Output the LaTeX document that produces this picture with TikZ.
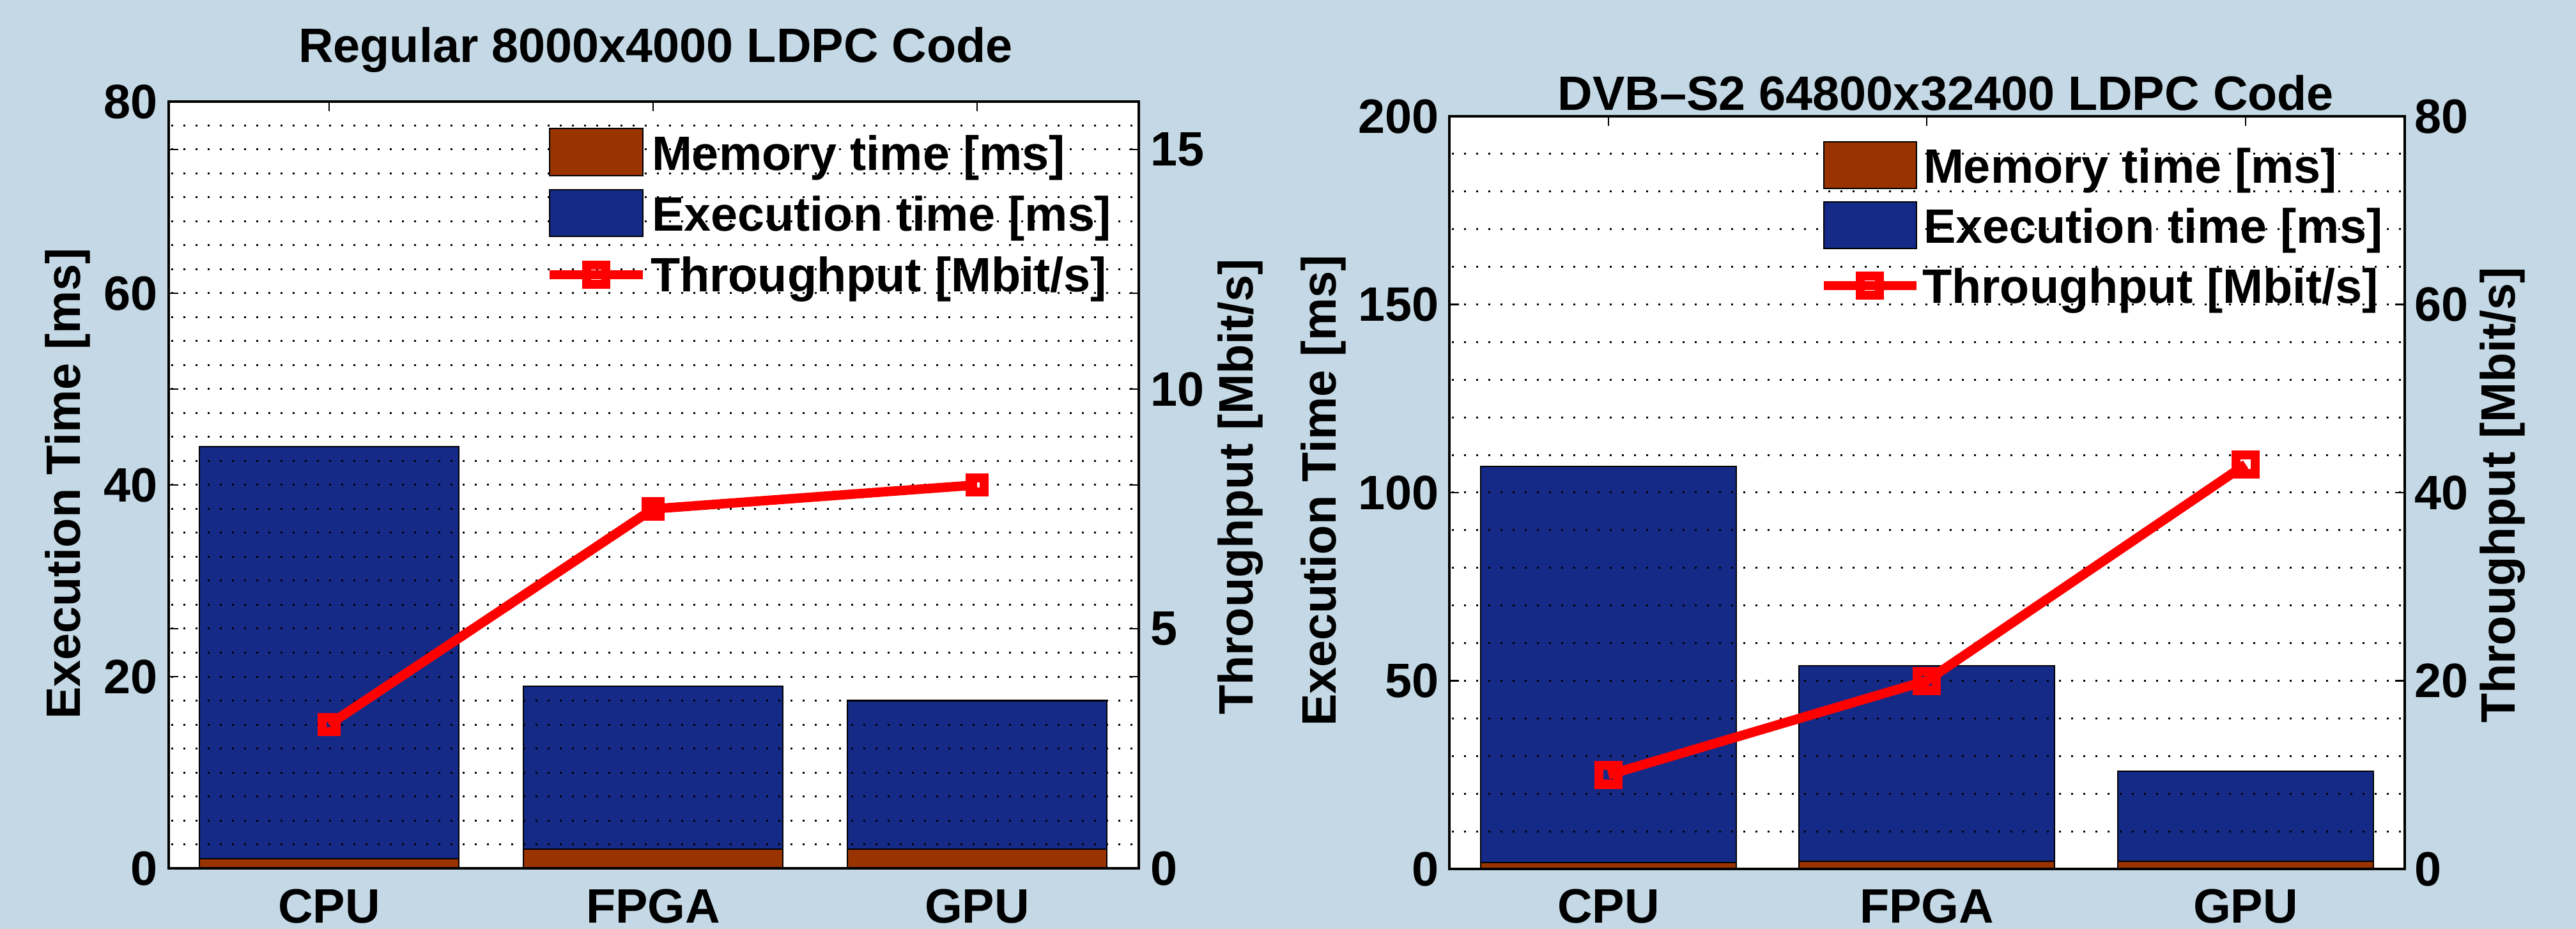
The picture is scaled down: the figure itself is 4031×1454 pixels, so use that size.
\documentclass[tikz,border=0pt]{standalone}
\usepackage{fontspec}
\setmainfont{Liberation Sans}
\definecolor{bgblue}{RGB}{196,217,229}
\definecolor{memcol}{RGB}{153,51,0}
\definecolor{execcol}{RGB}{21,42,135}
\tikzset{
  lbl/.style={font=\fontsize{18.9}{22}\selectfont\bfseries, inner sep=0pt, outer sep=0pt},
  barseg/.style={draw=black, line width=0.6pt},
  gridline/.style={line width=0.75pt, dash pattern=on 0.75pt off 4pt},
  axisline/.style={draw=black, line width=1pt},
  tickmark/.style={draw=black, line width=0.6pt},
  tput/.style={draw=red, line width=3.7pt, line join=round},
  tpmark/.style={draw=red, line width=3.6pt, rectangle, inner sep=0pt, minimum size=7.4pt},
  tpmarksmall/.style={tpmark, minimum size=5.6pt}
}
\begin{document}
\begin{tikzpicture}[x=0.25pt,y=-0.25pt]
\useasboundingbox (0,0) rectangle (4031,1454);
\fill[bgblue] (0,0) rectangle (4031,1454);

%================ Regular 8000x4000 code ================
\fill[white] (264,159) rectangle (1782,1359);
% stacked bars: memory time below, execution time on top (15 px per ms)
\foreach \bxc/\bmem/\btot in {515/1/44, 1022/2/19, 1529/2/17.5}{
  \draw[barseg, fill=memcol] ({\bxc-203},1359) rectangle ({\bxc+203},{1359-15*\bmem});
  \draw[barseg, fill=execcol] ({\bxc-203},{1359-15*\bmem}) rectangle ({\bxc+203},{1359-15*\btot});
}
% dotted grid every 2.5 ms
\foreach \k in {1,...,31}
  \draw[gridline] (268,{159+37.5*\k}) -- (1780,{159+37.5*\k});
% throughput curve (75 px per Mbit/s)
\coordinate (lp1) at (515,{1359-75*3});
\coordinate (lp2) at (1022,{1359-75*7.5});
\coordinate (lp3) at (1529,{1359-75*8});
\draw[tput] (lp1) -- (lp2) -- (lp3);
\foreach \i in {1,2,3} \node[tpmarksmall] (lm\i) at (lp\i) {};
% legend
\draw[barseg, fill=memcol] (860,201) rectangle (1006,275);
\draw[barseg, fill=execcol] (860,297) rectangle (1006,370);
\coordinate (lla) at (860,430);
\coordinate (llb) at (1006,430);
\draw[tput] (lla) -- (llb);
\node[tpmark] (llm) at (933,430) {};
\node[lbl, anchor=base west] (lleg1) at (1020,267) {Memory time [ms]};
\node[lbl, anchor=base west] (lleg2) at (1020,362) {Execution time [ms]};
\node[lbl, anchor=base west] (lleg3) at (1018,457) {Throughput [Mbit/s]};
% axes box and ticks
\draw[axisline] (264,159) rectangle (1782,1359);
\foreach \v in {0,20,40,60,80}{
  \draw[tickmark] (264,{1359-15*\v}) -- (279,{1359-15*\v});
  \draw[tickmark] (1782,{1359-15*\v}) -- (1767,{1359-15*\v});
  \node[lbl, anchor=east] (lyl\v) at (247,{1359-15*\v}) {\v};
}
\foreach \v in {0,5,10,15}{
  \draw[tickmark] (264,{1359-75*\v}) -- (279,{1359-75*\v});
  \draw[tickmark] (1782,{1359-75*\v}) -- (1767,{1359-75*\v});
  \node[lbl, anchor=west] (lyr\v) at (1800,{1359-75*\v}) {\v};
}
\foreach \bxc in {515,1022,1529}
  \draw[tickmark] (\bxc,159) -- (\bxc,174);
\node[lbl, anchor=base] (lc1) at (515,1444) {CPU};
\node[lbl, anchor=base] (lc2) at (1022,1444) {FPGA};
\node[lbl, anchor=base] (lc3) at (1529,1444) {GPU};
\node[lbl, anchor=base, rotate=90] (lylab) at (125,757) {Execution Time [ms]};
\node[lbl, anchor=base, rotate=90] (lyrlab) at (1960,762) {Throughput [Mbit/s]};
\node[lbl, anchor=base] (ltitle) at (1026,98) {Regular 8000x4000 LDPC Code};

%================ DVB-S2 64800x32400 code ================
\fill[white] (2268,182) rectangle (3763,1360);
% stacked bars (5.89 px per ms)
\foreach \bxc/\bmem/\btot in {2517/1.7/107, 3015/2/54, 3514/2/26}{
  \draw[barseg, fill=memcol] ({\bxc-200},1360) rectangle ({\bxc+200},{1360-5.89*\bmem});
  \draw[barseg, fill=execcol] ({\bxc-200},{1360-5.89*\bmem}) rectangle ({\bxc+200},{1360-5.89*\btot});
}
% dotted grid every 10 ms
\foreach \k in {1,...,19}
  \draw[gridline] (2272,{182+58.9*\k}) -- (3760,{182+58.9*\k});
% throughput curve (14.725 px per Mbit/s)
\coordinate (rp1) at (2517,{1360-14.725*10});
\coordinate (rp2) at (3015,{1360-14.725*20});
\coordinate (rp3) at (3514,{1360-14.725*43});
\draw[tput] (rp1) -- (rp2) -- (rp3);
\foreach \i in {1,2,3} \node[tpmark] (rm\i) at (rp\i) {};
% legend
\draw[barseg, fill=memcol] (2854,222) rectangle (2999,295);
\draw[barseg, fill=execcol] (2854,316) rectangle (2999,389);
\coordinate (rla) at (2854,447);
\coordinate (rlb) at (2999,447);
\draw[tput] (rla) -- (rlb);
\node[tpmark] (rlm) at (2926,447) {};
\node[lbl, anchor=base west] (rleg1) at (3010,287) {Memory time [ms]};
\node[lbl, anchor=base west] (rleg2) at (3010,381) {Execution time [ms]};
\node[lbl, anchor=base west] (rleg3) at (3008,475) {Throughput [Mbit/s]};
% axes box and ticks
\draw[axisline] (2268,182) rectangle (3763,1360);
\foreach \v in {0,50,100,150,200}{
  \draw[tickmark] (2268,{1360-5.89*\v}) -- (2283,{1360-5.89*\v});
  \draw[tickmark] (3763,{1360-5.89*\v}) -- (3748,{1360-5.89*\v});
  \node[lbl, anchor=east] (ryl\v) at (2252,{1360-5.89*\v}) {\v};
}
\foreach \v in {0,20,40,60,80}{
  \draw[tickmark] (2268,{1360-14.725*\v}) -- (2283,{1360-14.725*\v});
  \draw[tickmark] (3763,{1360-14.725*\v}) -- (3748,{1360-14.725*\v});
  \node[lbl, anchor=west] (ryr\v) at (3778,{1360-14.725*\v}) {\v};
}
\foreach \bxc in {2517,3015,3514}
  \draw[tickmark] (\bxc,182) -- (\bxc,197);
\node[lbl, anchor=base] (rc1) at (2517,1444) {CPU};
\node[lbl, anchor=base] (rc2) at (3015,1444) {FPGA};
\node[lbl, anchor=base] (rc3) at (3514,1444) {GPU};
\node[lbl, anchor=base, rotate=90] (rylab) at (2090,768) {Execution Time [ms]};
\node[lbl, anchor=base, rotate=90] (ryrlab) at (3935,775) {Throughput [Mbit/s]};
\node[lbl, anchor=base] (rtitle) at (3045,173) {DVB–S2 64800x32400 LDPC Code};
\end{tikzpicture}
\end{document}
